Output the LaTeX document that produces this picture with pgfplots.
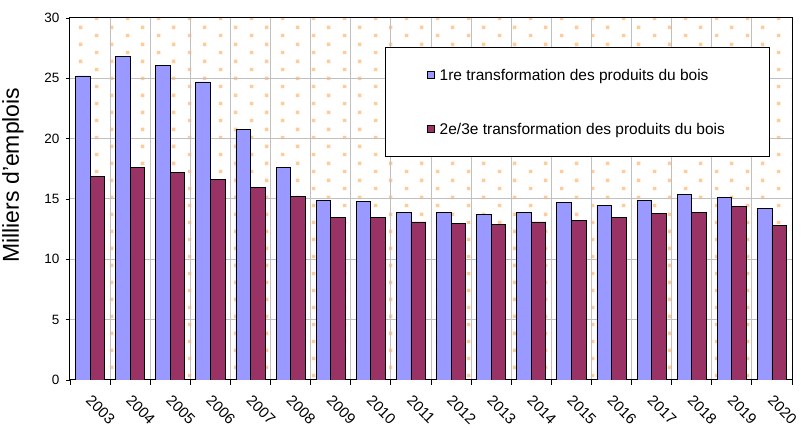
\documentclass[border=0pt]{standalone}
\usepackage{pgfplots}
\pgfplotsset{compat=1.18}
\usepackage{fontspec}
\setmainfont{Liberation Sans}
\usetikzlibrary{patterns}
\definecolor{barblue}{RGB}{153,153,255}
\definecolor{barmaroon}{RGB}{153,51,102}
\definecolor{dotorange}{RGB}{255,204,153}
\definecolor{gridgray}{RGB}{192,192,192}
\pgfdeclarepatternformonly{exceldots}{\pgfqpoint{0pt}{0pt}}{\pgfqpoint{31pt}{17pt}}{\pgfqpoint{31pt}{17pt}}{%
  \pgfpathrectangle{\pgfqpoint{2pt}{2pt}}{\pgfqpoint{3.5pt}{3.5pt}}%
  \pgfpathrectangle{\pgfqpoint{17.5pt}{10.5pt}}{\pgfqpoint{3.5pt}{3.5pt}}%
  \pgfusepath{fill}}
\pgfplotstableread{
x blue maroon
0 25.2 16.9
1 26.8 17.6
2 26.1 17.2
3 24.7 16.6
4 20.75 15.95
5 17.6 15.2
6 14.9 13.45
7 14.8 13.45
8 13.9 13.1
9 13.9 13.0
10 13.7 12.9
11 13.9 13.1
12 14.7 13.25
13 14.5 13.45
14 14.9 13.8
15 15.35 13.9
16 15.15 14.35
17 14.25 12.8
}\datatable
\begin{document}
\begin{tikzpicture}
\path[use as bounding box] (-70pt,-50pt) rectangle (731pt,380pt);
\begin{axis}[
  at={(0pt,0pt)}, anchor=south west,
  scale only axis, width=722pt, height=362pt,
  xmin=-0.5, xmax=17.5, ymin=0, ymax=30,
  ybar=0pt, bar width=14.6pt,
  axis background/.style={preaction={fill=white}, pattern=exceldots, pattern color=dotorange},
  axis line style={black, line width=1pt},
  xtick={0,...,17},
  xticklabels={2003,2004,2005,2006,2007,2008,2009,2010,2011,2012,2013,2014,2015,2016,2017,2018,2019,2020},
  minor xtick={-0.5,0.5,...,17.5},
  major x tick style={draw=none},
  minor x tick style={black, line width=0.8pt},
  minor tick length=5pt,
  xminorgrids, ymajorgrids,
  grid style={gridgray, line width=1pt},
  minor grid style={gridgray, line width=1pt},
  ytick={0,5,...,30},
  major y tick style={black, line width=0.8pt},
  major tick length=4pt,
  tick align=outside,
  xtick pos=bottom, ytick pos=left,
  /pgf/number format/assume math mode=true,
  yticklabel style={font=\fontsize{13.5}{16}\selectfont, xshift=-3pt},
  xticklabel style={font=\fontsize{15}{18}\selectfont, xshift=2.5pt, yshift=-5pt, rotate=-45, anchor=north west},
  ylabel={Milliers d'emplois},
  ylabel style={at={(axis description cs:-0.079,0.566)}, anchor=center, font=\fontsize{23}{27}\selectfont},
  legend image code/.code={\draw[#1,/tikz/.cd,draw=black,line width=0.6pt] (0pt,-3.5pt) rectangle (7pt,3.5pt);},
  legend style={at={(axis description cs:0.4363,0.9199)}, anchor=north west,
    draw=black, line width=0.8pt, fill=white,
    inner xsep=41.7pt, inner ysep=19.3pt, row sep=38.2pt,
    font=\fontsize{15.5}{18}\selectfont,
    nodes={inner sep=0pt, text height=13.5pt, text depth=2.6pt},
    /tikz/every odd column/.append style={column sep=5pt}},
  legend cell align=left,
]
\addplot[fill=barblue, draw=black, line width=0.8pt] table[x=x, y=blue] {\datatable};
\addlegendentry{\makebox[288pt][l]{1re transformation des produits du bois}}
\addplot[fill=barmaroon, draw=black, line width=0.8pt] table[x=x, y=maroon] {\datatable};
\addlegendentry{\makebox[288pt][l]{2e/3e transformation des produits du bois}}
\end{axis}
\end{tikzpicture}
\end{document}
